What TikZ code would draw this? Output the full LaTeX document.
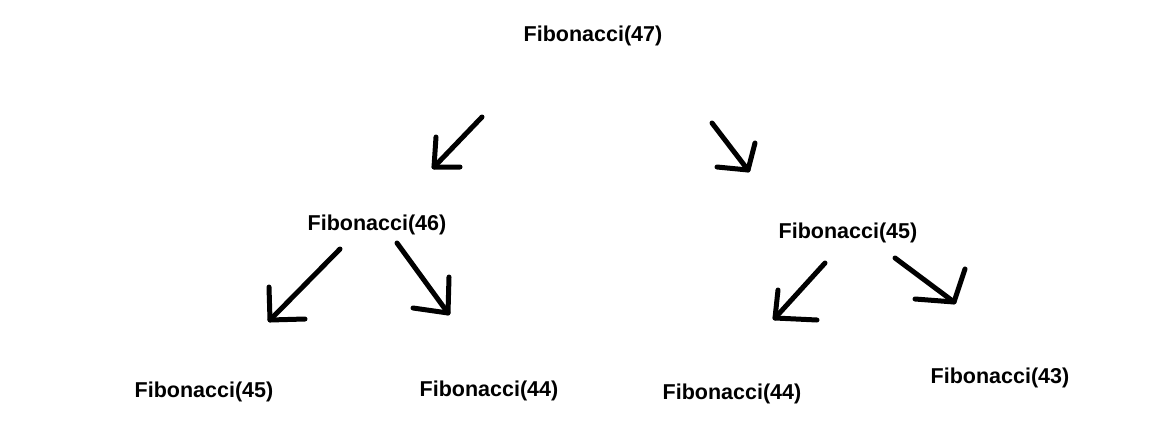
\documentclass[tikz,border=0pt]{standalone}
\usepackage{fontspec}
\setmainfont{Liberation Sans}
\begin{document}
\begin{tikzpicture}[x=1pt,y=-1pt,
  lbl/.style={font=\bfseries\fontsize{21.5}{24}\selectfont, inner sep=0pt, text=black},
  stroke/.style={line width=5pt, line cap=round, line join=round, black}]
\fill[white] (0,0) rectangle (1161,436);
\useasboundingbox (0,0) rectangle (1161,436);
\node[lbl] (f47) at (593,35.5) {Fibonacci(47)};
\node[lbl] (f46) at (377,224.5) {Fibonacci(46)};
\node[lbl] (f45r) at (848,232.5) {Fibonacci(45)};
\node[lbl] (f45l) at (204,391.5) {Fibonacci(45)};
\node[lbl] (f44m) at (489,390.5) {Fibonacci(44)};
\node[lbl] (f44r) at (732,393.5) {Fibonacci(44)};
\node[lbl] (f43) at (1000,377.5) {Fibonacci(43)};
% arrow 1
\coordinate (a1s) at (482,117); \coordinate (a1t) at (434,167);
\coordinate (a1u) at (436,137); \coordinate (a1h) at (460,167);
\draw[stroke] (a1s) -- (a1t); \draw[stroke] (a1u) -- (a1t) -- (a1h);
% arrow 2
\coordinate (a2s) at (712,123); \coordinate (a2t) at (748,170);
\coordinate (a2u) at (755,143); \coordinate (a2h) at (717,167);
\draw[stroke] (a2s) -- (a2t); \draw[stroke] (a2u) -- (a2t) -- (a2h);
% arrow 3
\coordinate (a3s) at (340,249); \coordinate (a3t) at (270,320);
\coordinate (a3u) at (269,287); \coordinate (a3h) at (305,319);
\draw[stroke] (a3s) -- (a3t); \draw[stroke] (a3u) -- (a3t) -- (a3h);
% arrow 4
\coordinate (a4s) at (397,243); \coordinate (a4t) at (448,313);
\coordinate (a4u) at (449,277); \coordinate (a4h) at (413,308);
\draw[stroke] (a4s) -- (a4t); \draw[stroke] (a4u) -- (a4t) -- (a4h);
% arrow 5
\coordinate (a5s) at (825,263); \coordinate (a5t) at (775,318);
\coordinate (a5u) at (778,290); \coordinate (a5h) at (817,320);
\draw[stroke] (a5s) -- (a5t); \draw[stroke] (a5u) -- (a5t) -- (a5h);
% arrow 6
\coordinate (a6s) at (895,258); \coordinate (a6t) at (954,302);
\coordinate (a6u) at (965,269); \coordinate (a6h) at (915,299);
\draw[stroke] (a6s) -- (a6t); \draw[stroke] (a6u) -- (a6t) -- (a6h);
\end{tikzpicture}
\end{document}
